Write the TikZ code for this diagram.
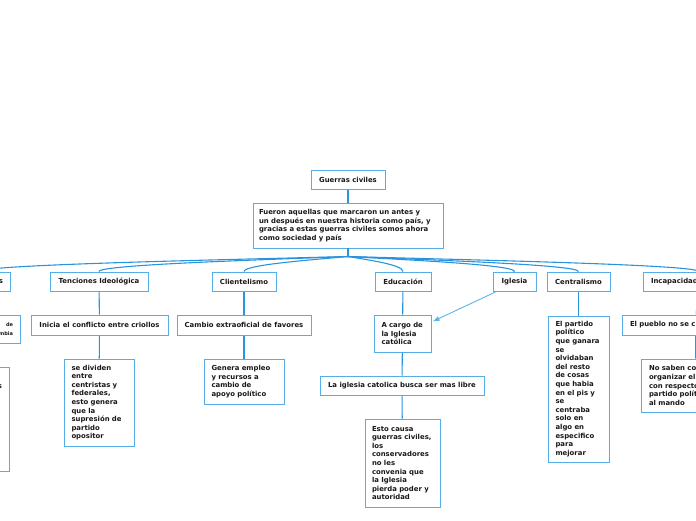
\documentclass[tikz,border=0pt]{standalone}
\usepackage{fontspec}
\setmainfont{DejaVu Sans}
\usetikzlibrary{calc,arrows.meta}
\definecolor{boxc}{RGB}{86,174,232}
\definecolor{conc}{RGB}{40,148,222}
\definecolor{arrc}{RGB}{90,180,235}
\definecolor{txt}{RGB}{25,25,25}
\newcommand{\nfont}{\fontsize{6.9}{8.6}\selectfont\bfseries}
\begin{document}
\begin{tikzpicture}[x=1pt,y=-1pt,
 box/.style={draw=boxc, fill=white, line width=1pt, text=txt, font=\nfont, inner xsep=7.5pt, inner ysep=2pt},
 one/.style={box, align=center, inner xsep=4pt},
 multi/.style={box, align=left},
 conn/.style={draw=conc, line width=1.1pt},
 arr/.style={draw=arrc, line width=0.9pt, -{Latex[length=7pt,width=5pt]}}
]
\useasboundingbox (0,0) rectangle (696,520);
\clip (0,0) rectangle (696,520);

\node[one, minimum width=74, minimum height=19] (g) at (348,179.5) {Guerras civiles};
\node[multi, text width=178, inner xsep=6pt, minimum height=45] (f) at (348,225.5) {Fueron aquellas que marcaron un antes y\\ un después en nuestra historia como país, y\\ gracias a estas guerras civiles somos ahora\\ como sociedad y país};

% row 1
\node[box, anchor=east, text width=46, align=right, minimum height=19] (t0) at (11,281.5) {s};
\node[one, minimum width=98, minimum height=19] (t1) at (99,281.5) {Tenciones Ideológica};
\node[one, minimum width=64, minimum height=19] (t2) at (244,281.5) {Clientelismo};
\node[one, minimum width=56, minimum height=19] (t3) at (403,281.5) {Educación};
\node[one, minimum width=43, minimum height=19] (t4) at (514.5,281.5) {Iglesia};
\node[one, minimum width=63, minimum height=19] (t5) at (578.5,281.5) {Centralismo};
\node[box, anchor=west, text width=95, align=left, minimum height=19] (t6) at (643,281.5) {Incapacidad};

% row 2
\node[box, anchor=east, text width=65, align=right, minimum height=28, font=\fontsize{5}{9}\selectfont\bfseries] (s0) at (21,329) {de\hspace{5pt}\\mbia};
\node[one, minimum width=137, minimum height=20] (s2) at (99.5,325) {Inicia el conflicto entre criollos};
\node[one, minimum width=134, minimum height=20] (s3) at (244,325) {Cambio extraoficial de favores};
\node[multi, text width=42, minimum height=37] (s4) at (402.5,333.5) {A cargo de\\la Iglesia\\católica};
\node[multi, text width=46, minimum height=146] (s5) at (578.5,389) {El partido\\político\\que ganara\\se\\olvidaban\\del resto\\de cosas\\que habia\\en el pis y\\se\\centraba\\solo en\\algo en\\especifico\\para\\mejorar};
\node[box, anchor=west, text width=131, align=left, minimum height=20] (s6) at (622,325) {El pueblo no se c};

% row 3
\node[box, anchor=north east, text width=41, align=right, minimum height=104] (l3) at (10,367) {\mbox{}\\s\\[62pt]\mbox{}};
\node[multi, text width=55, minimum height=87] (l4) at (99,402.5) {se dividen\\entre\\centristas y\\federales,\\esto genera\\que la\\supresión de\\partido\\opositor};
\node[multi, text width=65, minimum height=45] (l5) at (244,381.5) {Genera empleo\\y recursos a\\cambio de\\apoyo político};
\node[one, minimum width=164, minimum height=19] (l6) at (402,385.5) {La iglesia catolica busca ser mas libre};
\node[box, anchor=west, text width=94, align=left, minimum height=53] (l7) at (641,385.5) {No saben como\\organizar el\\con respecto\\partido político\\al mando};
\node[multi, text width=61, inner xsep=7pt, minimum height=88] (e) at (402.5,463) {Esto causa\\guerras civiles,\\los\\conservadores\\no les\\convenia que\\la Iglesia\\pierda poder y\\autoridad};

% connectors
\draw[conn] (g) -- (f);
\draw[conn] (f.south) -- ++(0,8) .. controls +(-110,3) and +(0,-7) .. (t0.north);
\draw[conn] (f.south) -- ++(0,8) .. controls +(-75,3) and +(0,-7) .. (t1.north);
\draw[conn] (f.south) -- ++(0,8) .. controls +(-31,3) and +(0,-7) .. (t2.north);
\draw[conn] (f.south) -- ++(0,8) .. controls +(17,3) and +(0,-7) .. (t3.north);
\draw[conn] (f.south) -- ++(0,8) .. controls +(50,3) and +(0,-7) .. (t4.north);
\draw[conn] (f.south) -- ++(0,8) .. controls +(69,3) and +(0,-7) .. (t5.north);
\draw[conn] (f.south) -- ++(0,8) .. controls +(103,3) and +(0,-7) .. (t6.north);

\draw[conn] (t0) -- (s0);
\draw[conn] (t1) -- (s2);
\draw[conn] (s2) -- (l4);
\draw[conn] (t2) -- (s3);
\draw[conn] (s3) -- (l5);
\draw[conn] (t3) -- (s4);
\draw[conn] (s4) -- (l6);
\draw[conn] (l6) -- (e);
\draw[conn] (t5) -- (s5);
\draw[conn] (t6) -- (s6);
\draw[conn] (s6) -- (l7);

\draw[arr] ($(t4.south west)+(4,0)$) -- ($(s4.north east)+(1,7)$);
\end{tikzpicture}
\end{document}
